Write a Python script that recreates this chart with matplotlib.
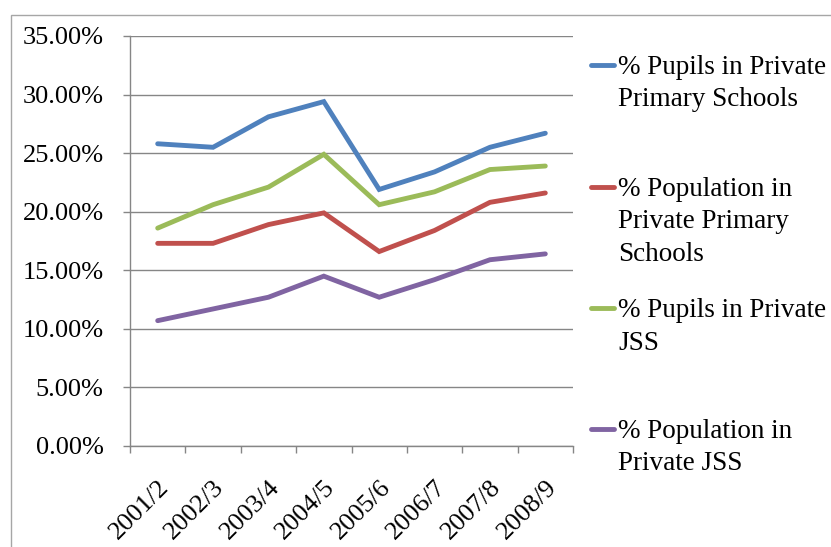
import matplotlib
matplotlib.use("Agg")
import matplotlib.pyplot as plt
from matplotlib.lines import Line2D
from matplotlib.patches import Rectangle
from matplotlib.ticker import FuncFormatter, FixedLocator

plt.rcParams['font.family'] = ['Liberation Serif', 'DejaVu Serif']

years = ["2001/2", "2002/3", "2003/4", "2004/5", "2005/6", "2006/7", "2007/8", "2008/9"]

pupils_primary = [25.8, 25.5, 28.1, 29.4, 21.9, 23.4, 25.5, 26.7]
population_primary = [17.3, 17.3, 18.9, 19.9, 16.6, 18.4, 20.8, 21.6]
pupils_jss = [18.6, 20.6, 22.1, 24.9, 20.6, 21.7, 23.6, 23.9]
population_jss = [10.7, 11.7, 12.7, 14.5, 12.7, 14.2, 15.9, 16.4]

series = [
    ("% Pupils in Private\nPrimary Schools", pupils_primary, "#4F81BD"),
    ("% Population in\nPrivate Primary\nSchools", population_primary, "#C0504D"),
    ("% Pupils in Private\nJSS", pupils_jss, "#9BBB59"),
    ("% Population in\nPrivate JSS", population_jss, "#8064A2"),
]

W, H = 831, 547
fig = plt.figure(figsize=(W / 100, H / 100), dpi=100)


def fx(px):
    return px / W


def fy(py):
    return 1 - py / H


# outer chart frame (left and top edges visible)
fig.add_artist(Rectangle((fx(11), fy(560)), fx(840) - fx(11), fy(15) - fy(560),
                         transform=fig.transFigure, fill=False,
                         edgecolor="#A6A6A6", linewidth=1.0))

ax = fig.add_axes([fx(130), fy(446), fx(573) - fx(130), fy(36) - fy(446)])

x = list(range(len(years)))
for label, vals, color in series:
    ax.plot(x, vals, color=color, linewidth=3.5, solid_capstyle="round",
            solid_joinstyle="miter")

ax.set_xlim(-0.5, len(years) - 0.5)
ax.set_ylim(0, 35)
ax.set_yticks([0, 5, 10, 15, 20, 25, 30, 35])
ax.yaxis.set_major_formatter(FuncFormatter(lambda v, p: f"{v:.2f}%"))
ax.grid(axis="y", color="#868686", linewidth=1.0)
ax.set_axisbelow(True)

ax.set_xticks(x)
ax.set_xticklabels(years, rotation=45, ha="right", va="top", rotation_mode="anchor")
ax.xaxis.set_minor_locator(FixedLocator([i - 0.5 for i in range(len(years) + 1)]))
ax.tick_params(axis="x", which="major", length=0, pad=22, labelsize=19)
ax.tick_params(axis="x", which="minor", length=5, color="#868686", width=1.0, direction="out")
ax.tick_params(axis="y", length=5, color="#868686", width=1.0, pad=14, labelsize=19)

for s in ("top", "right"):
    ax.spines[s].set_visible(False)
for s in ("left", "bottom"):
    ax.spines[s].set_color("#868686")
    ax.spines[s].set_linewidth(1.0)

# legend entries: handle aligned to first text line
legend_y = [65, 187, 308, 429]
line_step = 32.5
for (label, vals, color), ly in zip(series, legend_y):
    fig.add_artist(Line2D([fx(591), fx(614)], [fy(ly), fy(ly)], transform=fig.transFigure,
                          color=color, linewidth=3.5, solid_capstyle="round"))
    for i, part in enumerate(label.split("\n")):
        fig.text(fx(618), fy(ly + 9 + i * line_step), part, ha="left", va="baseline",
                 fontsize=19.5)

fig.savefig("out.png", dpi=100)
